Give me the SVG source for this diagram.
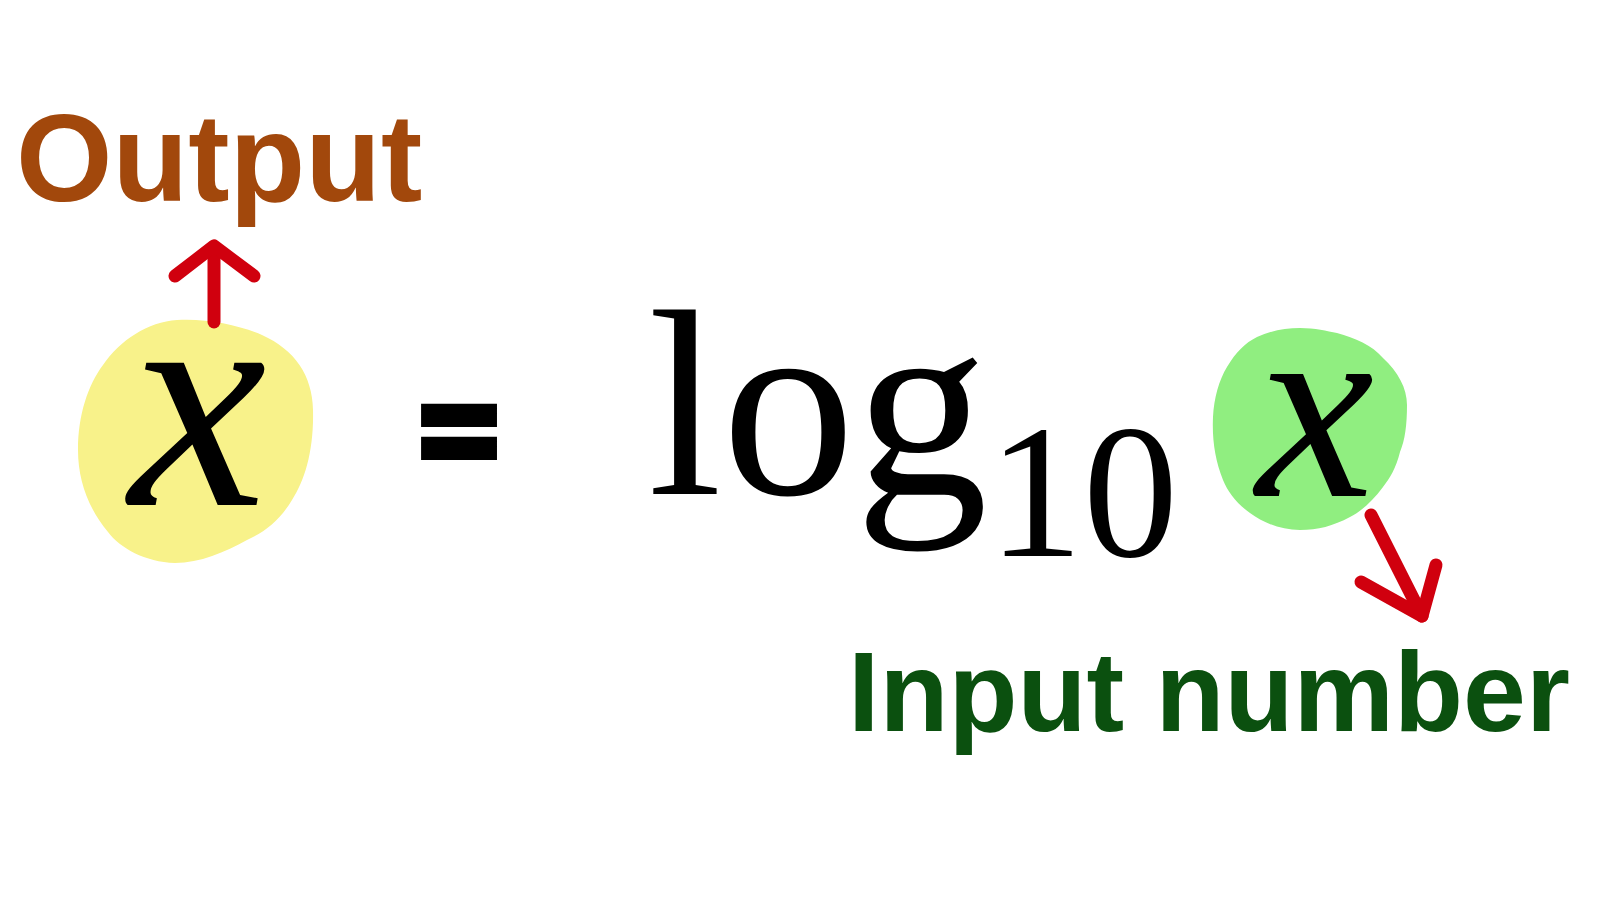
<svg xmlns="http://www.w3.org/2000/svg" width="1600" height="900" viewBox="0 0 1600 900">
  <defs>
    <style>
      .label { font-family: "Liberation Sans", Arial, Helvetica, sans-serif; font-weight: bold; }
      .math { font-family: "Liberation Serif", "Times New Roman", serif; fill: #000; }
      .arrow { fill: none; stroke: #D0000E; stroke-width: 13; stroke-linecap: round; stroke-linejoin: round; }
    </style>
  </defs>
  <rect width="1600" height="900" fill="#FFFFFF"/>

  <g id="output-label">
    <text class="label" x="16" y="201" font-size="124" fill="#A2480C">Output</text>
  </g>

  <g id="output-x">
    <path d="M 177 320 C 205 318, 240 325, 262 335 C 295 350, 312 375, 313 410 C 314 450, 305 480, 292 500 C 280 520, 265 532, 247 540 C 225 552, 200 563, 175 563 C 145 562, 120 548, 108 532 C 88 508, 78 480, 78 450 C 78 415, 88 385, 103 365 C 120 340, 148 322, 177 320 Z" fill="#F8F28A"/>
    <text class="math" x="129" y="505" font-size="310" font-style="italic">x</text>
  </g>

  <g id="equals">
    <text class="label" x="421" y="472" font-size="122" stroke="#000" stroke-width="10" stroke-linejoin="miter" fill="#000" textLength="76" lengthAdjust="spacingAndGlyphs">=</text>
  </g>

  <g id="log-base">
    <text class="math" x="648" y="494" font-size="266">log</text>
    <text class="math" x="988" y="556" font-size="190">10</text>
  </g>

  <g id="input-x">
    <path d="M 1300 328 C 1315 328, 1327 331, 1337 333 C 1355 338, 1372 345, 1383 358 C 1398 372, 1407 388, 1407 405 C 1407 425, 1405 440, 1400 452 C 1396 468, 1390 478, 1383 487 C 1372 502, 1360 512, 1350 517 C 1333 526, 1318 530, 1300 530 C 1280 530, 1262 522, 1250 513 C 1236 503, 1228 492, 1223 480 C 1215 460, 1212 440, 1213 417 C 1214 398, 1219 380, 1227 367 C 1236 352, 1245 343, 1257 337 C 1270 331, 1285 328, 1300 328 Z" fill="#90EE80"/>
    <text class="math" x="1256" y="496" font-size="266" font-style="italic">x</text>
  </g>

  <g id="input-label">
    <text class="label" x="848" y="731" font-size="113" fill="#0B500F">Input number</text>
  </g>

  <g id="connectors">
    <path class="arrow" d="M 214 322 L 214 247"/>
    <path class="arrow" d="M 175 276 L 214 246 L 254 276"/>
    <path class="arrow" d="M 1371 515 L 1422 616"/>
    <path class="arrow" d="M 1361 582 L 1422 616 L 1436 565"/>
  </g>
</svg>
